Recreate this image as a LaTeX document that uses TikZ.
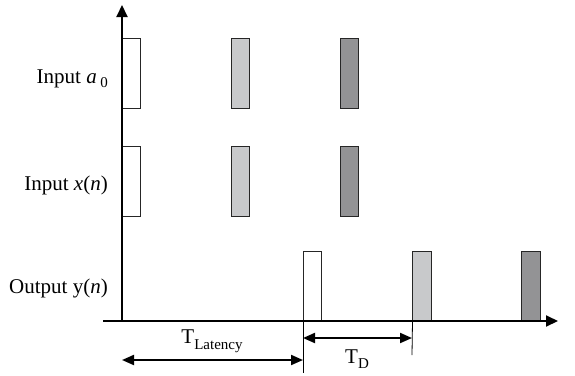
\documentclass[tikz,border=0pt]{standalone}
\usepackage{fontspec}
\setmainfont{Liberation Serif}
\usetikzlibrary{arrows.meta}
\definecolor{lgray}{HTML}{C8C9CB}
\definecolor{dgray}{HTML}{939395}
\newcommand{\lowsub}[2][-5pt]{\raisebox{#1}{\fontsize{15}{15}\selectfont #2}}
\tikzset{
  axis/.style={line width=2pt},
  pulse/.style={draw=black!85, line width=1pt, minimum width=18pt, minimum height=70pt, inner sep=0pt, outer sep=0pt},
  dim/.style={line width=2pt, {Triangle[length=12pt,width=10pt]}-{Triangle[length=12pt,width=10pt]}},
  ext/.style={line width=0.8pt},
  lab/.style={font=\fontsize{21}{25}\selectfont, inner sep=0pt, anchor=base east},
  dlab/.style={font=\fontsize{21}{25}\selectfont, inner sep=0pt, anchor=base}
}
\begin{document}
\begin{tikzpicture}[x=1pt,y=-1pt]
\useasboundingbox (0,0) rectangle (575,375);
% axes
\coordinate (O) at (122,321);
\coordinate (ytop) at (122,5);
\coordinate (xl) at (103,321);
\coordinate (xr) at (558,321);
% pulses row 1
\node[pulse, fill=white] (a1) at (131,73.5) {};
\node[pulse, fill=lgray] (a2) at (240,73.5) {};
\node[pulse, fill=dgray] (a3) at (349,73.5) {};
% row 2
\node[pulse, fill=white] (x1) at (131,181) {};
\node[pulse, fill=lgray] (x2) at (240,181) {};
\node[pulse, fill=dgray] (x3) at (349,181) {};
% output
\node[pulse, fill=white] (y1) at (312,286) {};
\node[pulse, fill=lgray, minimum width=19pt] (y2) at (422,286) {};
\node[pulse, fill=dgray, minimum width=19pt] (y3) at (531,286) {};
\draw[axis, -{Triangle[length=12pt,width=11pt]}] (O) -- (ytop);
\draw[axis, -{Triangle[length=12pt,width=11pt]}] (xl) -- (xr);
% labels
\node[lab] (la) at (108,83) {Input \textit{a}\,\lowsub[-4pt]{0}};
\node[lab] (lx) at (108,190) {Input \textit{x}(\textit{n})};
\node[lab] (ly) at (108,293) {Output y(\textit{n})};
% dimension lines
\coordinate (e1b) at (303,373);
\coordinate (e2b) at (412,355);
\draw[ext] (y1.south west) -- (e1b);
\draw[ext] (y2.south west) -- (e2b);
\coordinate (L1) at (122,360);
\coordinate (L2) at (303,360);
\coordinate (D1) at (303,338);
\coordinate (D2) at (412,338);
\draw[dim] (L1) -- (L2);
\draw[dim] (D1) -- (D2);
\node[dlab] (tl) at (212,343) {T\lowsub[-6pt]{Latency}};
\node[dlab] (td) at (357,363) {T\lowsub{D}};
\end{tikzpicture}
\end{document}
